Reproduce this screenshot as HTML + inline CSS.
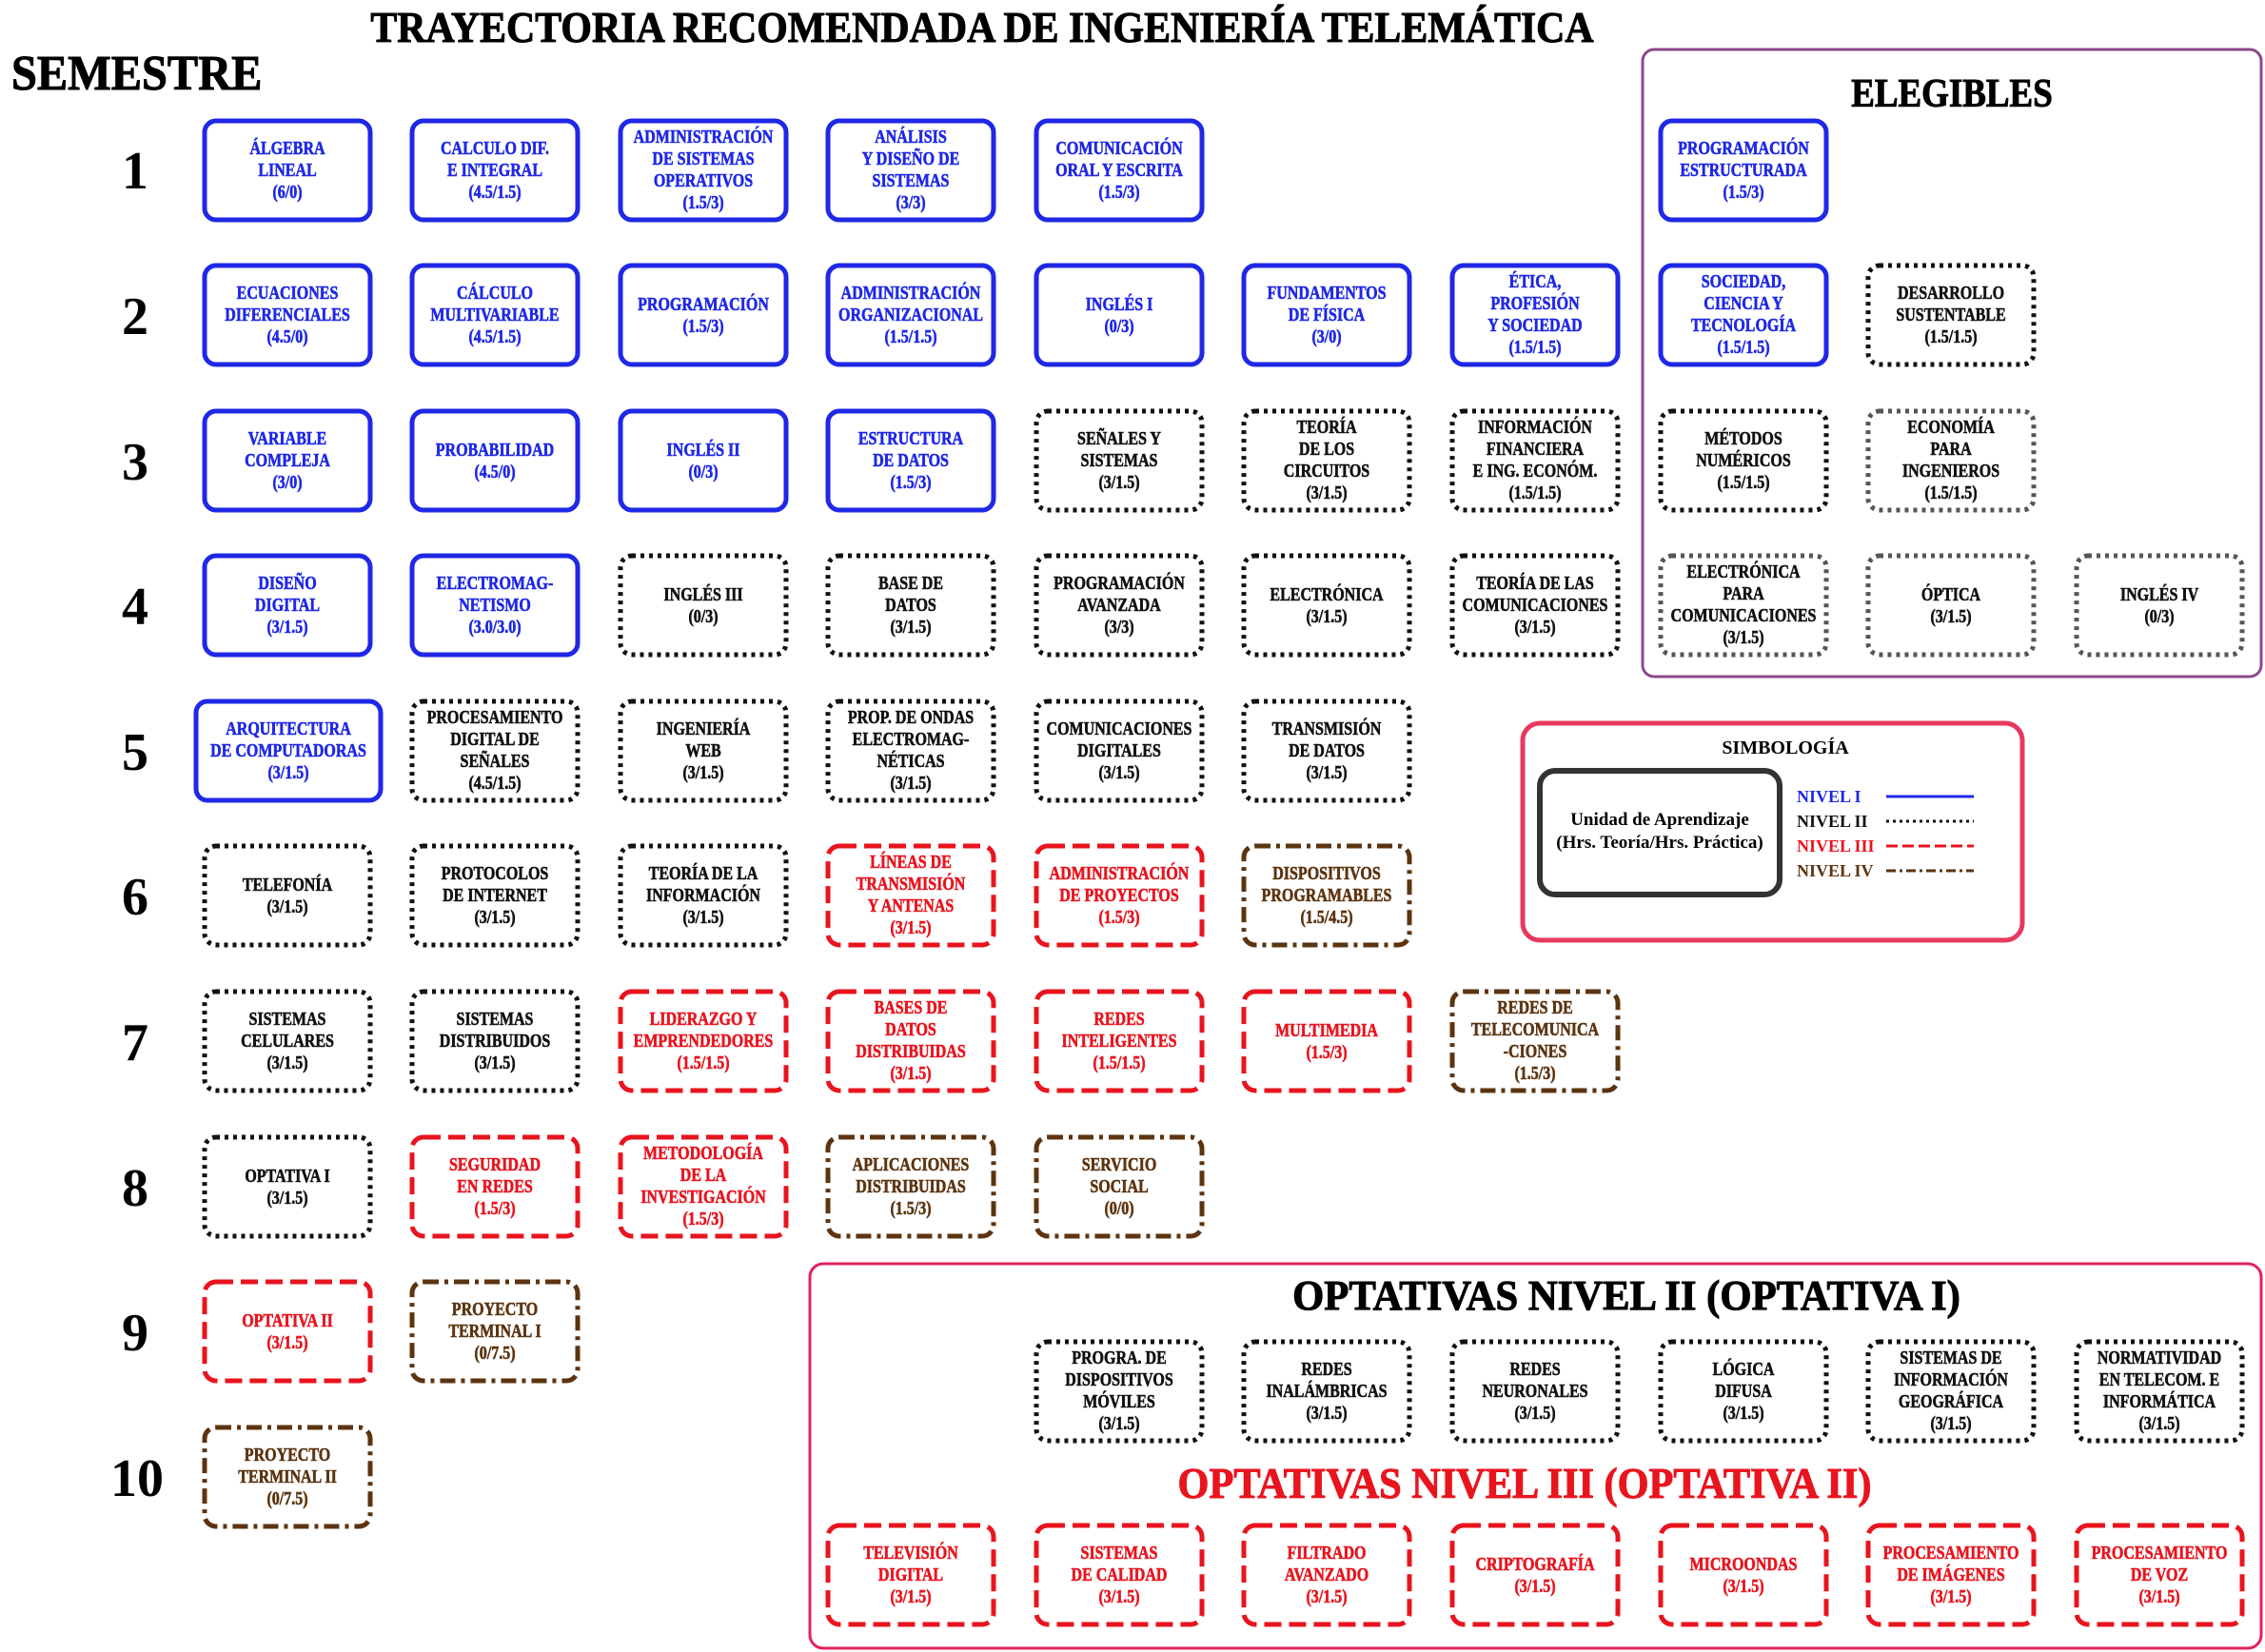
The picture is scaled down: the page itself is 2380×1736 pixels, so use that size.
<!DOCTYPE html>
<html><head><meta charset="utf-8"><style>
html,body{margin:0;padding:0;background:#fff;}
svg{display:block;}
text{font-family:"Liberation Serif",serif;font-weight:bold;}
.b rect{fill:none;stroke:#1f28e6;stroke-width:5;}
.n rect{fill:none;stroke:#111;stroke-width:5;stroke-dasharray:4 5;}
.g rect{fill:none;stroke:#555;stroke-width:5;stroke-dasharray:4 5;}
.r rect{fill:none;stroke:#e8141e;stroke-width:5;stroke-dasharray:18 8;}
.w rect{fill:none;stroke:#5c3410;stroke-width:5;stroke-dasharray:16 6 4 6;}
.b text{fill:#1f28e6;stroke:#1f28e6;} .n text,.g text{fill:#111;stroke:#111;} .r text{fill:#e8141e;stroke:#e8141e;} .w text{fill:#5c3410;stroke:#5c3410;}
.t{font-size:20px;stroke-width:0.6px;}
.h{stroke:#000;stroke-width:1px;}
</style></head><body>
<svg width="2380" height="1736" viewBox="0 0 2380 1736" xmlns="http://www.w3.org/2000/svg">
<text class="h" x="1032" y="44" font-size="46" text-anchor="middle" transform="translate(1032 0) scale(0.91 1) translate(-1032 0)">TRAYECTORIA RECOMENDADA  DE INGENIERÍA TELEMÁTICA</text>
<text class="h" x="12" y="94" font-size="52" transform="translate(12 0) scale(0.93 1) translate(-12 0)">SEMESTRE</text>
<g font-size="56" text-anchor="middle">
<text x="142" y="198">1</text><text x="142" y="351">2</text><text x="142" y="504">3</text><text x="142" y="656">4</text><text x="142" y="809">5</text><text x="142" y="961">6</text><text x="142" y="1114">7</text><text x="142" y="1267">8</text><text x="142" y="1419">9</text><text x="144" y="1572">10</text>
</g>
<!-- frames -->
<rect x="1726" y="52" width="650" height="659" rx="12" fill="none" stroke="#8a4a8a" stroke-width="3"/>
<text class="h" x="2051" y="112" font-size="42" text-anchor="middle" transform="translate(2051 0) scale(0.88 1) translate(-2051 0)">ELEGIBLES</text>
<rect x="851" y="1328" width="1525" height="404" rx="14" fill="none" stroke="#e0245a" stroke-width="3"/>
<text class="h" x="1709" y="1376" font-size="44" text-anchor="middle" transform="translate(1709 0) scale(0.97 1) translate(-1709 0)">OPTATIVAS NIVEL II (OPTATIVA I)</text>
<text x="1602" y="1574" font-size="46" text-anchor="middle" fill="#e8141e" stroke="#e8141e" stroke-width="1" transform="translate(1602 0) scale(0.92 1) translate(-1602 0)">OPTATIVAS NIVEL III (OPTATIVA II)</text>
<!-- simbologia -->
<rect x="1600" y="760" width="525" height="228" rx="18" fill="none" stroke="#e8385e" stroke-width="5"/>
<text x="1876" y="792" font-size="20" text-anchor="middle">SIMBOLOGÍA</text>
<rect x="1618" y="810" width="252" height="130" rx="16" fill="none" stroke="#333" stroke-width="6"/>
<text x="1744" y="867" font-size="19" text-anchor="middle">Unidad de Aprendizaje</text>
<text x="1744" y="891" font-size="19" text-anchor="middle">(Hrs. Teoría/Hrs. Práctica)</text>
<text x="1888" y="843" font-size="18" fill="#1f28e6">NIVEL I</text>
<text x="1888" y="869" font-size="18" fill="#111">NIVEL II</text>
<text x="1888" y="895" font-size="18" fill="#e8141e">NIVEL III</text>
<text x="1888" y="921" font-size="18" fill="#5c3410">NIVEL IV</text>
<line x1="1982" y1="837" x2="2074" y2="837" stroke="#1f28e6" stroke-width="3"/>
<line x1="1982" y1="863" x2="2074" y2="863" stroke="#111" stroke-width="3" stroke-dasharray="3 4"/>
<line x1="1982" y1="889" x2="2074" y2="889" stroke="#e8141e" stroke-width="3" stroke-dasharray="12 5"/>
<line x1="1982" y1="915" x2="2074" y2="915" stroke="#5c3410" stroke-width="3" stroke-dasharray="10 4 3 4"/>

<!-- ROW 1 cy=178.5 -->
<g class="b"><rect x="215" y="127" width="174" height="104" rx="12"/><text class="t" transform="translate(302 0) scale(0.8 1)" text-anchor="middle"><tspan x="0" y="162">ÁLGEBRA</tspan><tspan x="0" y="185">LINEAL</tspan><tspan x="0" y="208">(6/0)</tspan></text></g>
<g class="b"><rect x="433" y="127" width="174" height="104" rx="12"/><text class="t" transform="translate(520 0) scale(0.8 1)" text-anchor="middle"><tspan x="0" y="162">CALCULO DIF.</tspan><tspan x="0" y="185">E INTEGRAL</tspan><tspan x="0" y="208">(4.5/1.5)</tspan></text></g>
<g class="b"><rect x="652" y="127" width="174" height="104" rx="12"/><text class="t" transform="translate(739 0) scale(0.8 1)" text-anchor="middle"><tspan x="0" y="150">ADMINISTRACIÓN</tspan><tspan x="0" y="173">DE SISTEMAS</tspan><tspan x="0" y="196">OPERATIVOS</tspan><tspan x="0" y="219">(1.5/3)</tspan></text></g>
<g class="b"><rect x="870" y="127" width="174" height="104" rx="12"/><text class="t" transform="translate(957 0) scale(0.8 1)" text-anchor="middle"><tspan x="0" y="150">ANÁLISIS</tspan><tspan x="0" y="173">Y DISEÑO DE</tspan><tspan x="0" y="196">SISTEMAS</tspan><tspan x="0" y="219">(3/3)</tspan></text></g>
<g class="b"><rect x="1089" y="127" width="174" height="104" rx="12"/><text class="t" transform="translate(1176 0) scale(0.8 1)" text-anchor="middle"><tspan x="0" y="162">COMUNICACIÓN</tspan><tspan x="0" y="185">ORAL Y ESCRITA</tspan><tspan x="0" y="208">(1.5/3)</tspan></text></g>
<g class="b"><rect x="1745" y="127" width="174" height="104" rx="12"/><text class="t" transform="translate(1832 0) scale(0.8 1)" text-anchor="middle"><tspan x="0" y="162">PROGRAMACIÓN</tspan><tspan x="0" y="185">ESTRUCTURADA</tspan><tspan x="0" y="208">(1.5/3)</tspan></text></g>

<!-- ROW 2 cy=331 -->
<g class="b"><rect x="215" y="279" width="174" height="104" rx="12"/><text class="t" transform="translate(302 0) scale(0.8 1)" text-anchor="middle"><tspan x="0" y="314">ECUACIONES</tspan><tspan x="0" y="337">DIFERENCIALES</tspan><tspan x="0" y="360">(4.5/0)</tspan></text></g>
<g class="b"><rect x="433" y="279" width="174" height="104" rx="12"/><text class="t" transform="translate(520 0) scale(0.8 1)" text-anchor="middle"><tspan x="0" y="314">CÁLCULO</tspan><tspan x="0" y="337">MULTIVARIABLE</tspan><tspan x="0" y="360">(4.5/1.5)</tspan></text></g>
<g class="b"><rect x="652" y="279" width="174" height="104" rx="12"/><text class="t" transform="translate(739 0) scale(0.8 1)" text-anchor="middle"><tspan x="0" y="326">PROGRAMACIÓN</tspan><tspan x="0" y="349">(1.5/3)</tspan></text></g>
<g class="b"><rect x="870" y="279" width="174" height="104" rx="12"/><text class="t" transform="translate(957 0) scale(0.8 1)" text-anchor="middle"><tspan x="0" y="314">ADMINISTRACIÓN</tspan><tspan x="0" y="337">ORGANIZACIONAL</tspan><tspan x="0" y="360">(1.5/1.5)</tspan></text></g>
<g class="b"><rect x="1089" y="279" width="174" height="104" rx="12"/><text class="t" transform="translate(1176 0) scale(0.8 1)" text-anchor="middle"><tspan x="0" y="326">INGLÉS I</tspan><tspan x="0" y="349">(0/3)</tspan></text></g>
<g class="b"><rect x="1307" y="279" width="174" height="104" rx="12"/><text class="t" transform="translate(1394 0) scale(0.8 1)" text-anchor="middle"><tspan x="0" y="314">FUNDAMENTOS</tspan><tspan x="0" y="337">DE FÍSICA</tspan><tspan x="0" y="360">(3/0)</tspan></text></g>
<g class="b"><rect x="1526" y="279" width="174" height="104" rx="12"/><text class="t" transform="translate(1613 0) scale(0.8 1)" text-anchor="middle"><tspan x="0" y="302">ÉTICA,</tspan><tspan x="0" y="325">PROFESIÓN</tspan><tspan x="0" y="348">Y SOCIEDAD</tspan><tspan x="0" y="371">(1.5/1.5)</tspan></text></g>
<g class="b"><rect x="1745" y="279" width="174" height="104" rx="12"/><text class="t" transform="translate(1832 0) scale(0.8 1)" text-anchor="middle"><tspan x="0" y="302">SOCIEDAD,</tspan><tspan x="0" y="325">CIENCIA Y</tspan><tspan x="0" y="348">TECNOLOGÍA</tspan><tspan x="0" y="371">(1.5/1.5)</tspan></text></g>
<g class="n"><rect x="1963" y="279" width="174" height="104" rx="12"/><text class="t" transform="translate(2050 0) scale(0.8 1)" text-anchor="middle"><tspan x="0" y="314">DESARROLLO</tspan><tspan x="0" y="337">SUSTENTABLE</tspan><tspan x="0" y="360">(1.5/1.5)</tspan></text></g>

<!-- ROW 3 cy=484 -->
<g class="b"><rect x="215" y="432" width="174" height="104" rx="12"/><text class="t" transform="translate(302 0) scale(0.8 1)" text-anchor="middle"><tspan x="0" y="467">VARIABLE</tspan><tspan x="0" y="490">COMPLEJA</tspan><tspan x="0" y="513">(3/0)</tspan></text></g>
<g class="b"><rect x="433" y="432" width="174" height="104" rx="12"/><text class="t" transform="translate(520 0) scale(0.8 1)" text-anchor="middle"><tspan x="0" y="479">PROBABILIDAD</tspan><tspan x="0" y="502">(4.5/0)</tspan></text></g>
<g class="b"><rect x="652" y="432" width="174" height="104" rx="12"/><text class="t" transform="translate(739 0) scale(0.8 1)" text-anchor="middle"><tspan x="0" y="479">INGLÉS II</tspan><tspan x="0" y="502">(0/3)</tspan></text></g>
<g class="b"><rect x="870" y="432" width="174" height="104" rx="12"/><text class="t" transform="translate(957 0) scale(0.8 1)" text-anchor="middle"><tspan x="0" y="467">ESTRUCTURA</tspan><tspan x="0" y="490">DE DATOS</tspan><tspan x="0" y="513">(1.5/3)</tspan></text></g>
<g class="n"><rect x="1089" y="432" width="174" height="104" rx="12"/><text class="t" transform="translate(1176 0) scale(0.8 1)" text-anchor="middle"><tspan x="0" y="467">SEÑALES Y</tspan><tspan x="0" y="490">SISTEMAS</tspan><tspan x="0" y="513">(3/1.5)</tspan></text></g>
<g class="n"><rect x="1307" y="432" width="174" height="104" rx="12"/><text class="t" transform="translate(1394 0) scale(0.8 1)" text-anchor="middle"><tspan x="0" y="455">TEORÍA</tspan><tspan x="0" y="478">DE LOS</tspan><tspan x="0" y="501">CIRCUITOS</tspan><tspan x="0" y="524">(3/1.5)</tspan></text></g>
<g class="n"><rect x="1526" y="432" width="174" height="104" rx="12"/><text class="t" transform="translate(1613 0) scale(0.8 1)" text-anchor="middle"><tspan x="0" y="455">INFORMACIÓN</tspan><tspan x="0" y="478">FINANCIERA</tspan><tspan x="0" y="501">E ING. ECONÓM.</tspan><tspan x="0" y="524">(1.5/1.5)</tspan></text></g>
<g class="n"><rect x="1745" y="432" width="174" height="104" rx="12"/><text class="t" transform="translate(1832 0) scale(0.8 1)" text-anchor="middle"><tspan x="0" y="467">MÉTODOS</tspan><tspan x="0" y="490">NUMÉRICOS</tspan><tspan x="0" y="513">(1.5/1.5)</tspan></text></g>
<g class="g"><rect x="1963" y="432" width="174" height="104" rx="12"/><text class="t" transform="translate(2050 0) scale(0.8 1)" text-anchor="middle"><tspan x="0" y="455">ECONOMÍA</tspan><tspan x="0" y="478">PARA</tspan><tspan x="0" y="501">INGENIEROS</tspan><tspan x="0" y="524">(1.5/1.5)</tspan></text></g>

<!-- ROW 4 cy=636 -->
<g class="b"><rect x="215" y="584" width="174" height="104" rx="12"/><text class="t" transform="translate(302 0) scale(0.8 1)" text-anchor="middle"><tspan x="0" y="619">DISEÑO</tspan><tspan x="0" y="642">DIGITAL</tspan><tspan x="0" y="665">(3/1.5)</tspan></text></g>
<g class="b"><rect x="433" y="584" width="174" height="104" rx="12"/><text class="t" transform="translate(520 0) scale(0.8 1)" text-anchor="middle"><tspan x="0" y="619">ELECTROMAG-</tspan><tspan x="0" y="642">NETISMO</tspan><tspan x="0" y="665">(3.0/3.0)</tspan></text></g>
<g class="n"><rect x="652" y="584" width="174" height="104" rx="12"/><text class="t" transform="translate(739 0) scale(0.8 1)" text-anchor="middle"><tspan x="0" y="631">INGLÉS III</tspan><tspan x="0" y="654">(0/3)</tspan></text></g>
<g class="n"><rect x="870" y="584" width="174" height="104" rx="12"/><text class="t" transform="translate(957 0) scale(0.8 1)" text-anchor="middle"><tspan x="0" y="619">BASE DE</tspan><tspan x="0" y="642">DATOS</tspan><tspan x="0" y="665">(3/1.5)</tspan></text></g>
<g class="n"><rect x="1089" y="584" width="174" height="104" rx="12"/><text class="t" transform="translate(1176 0) scale(0.8 1)" text-anchor="middle"><tspan x="0" y="619">PROGRAMACIÓN</tspan><tspan x="0" y="642">AVANZADA</tspan><tspan x="0" y="665">(3/3)</tspan></text></g>
<g class="n"><rect x="1307" y="584" width="174" height="104" rx="12"/><text class="t" transform="translate(1394 0) scale(0.8 1)" text-anchor="middle"><tspan x="0" y="631">ELECTRÓNICA</tspan><tspan x="0" y="654">(3/1.5)</tspan></text></g>
<g class="n"><rect x="1526" y="584" width="174" height="104" rx="12"/><text class="t" transform="translate(1613 0) scale(0.8 1)" text-anchor="middle"><tspan x="0" y="619">TEORÍA DE LAS</tspan><tspan x="0" y="642">COMUNICACIONES</tspan><tspan x="0" y="665">(3/1.5)</tspan></text></g>
<g class="g"><rect x="1745" y="584" width="174" height="104" rx="12"/><text class="t" transform="translate(1832 0) scale(0.8 1)" text-anchor="middle"><tspan x="0" y="607">ELECTRÓNICA</tspan><tspan x="0" y="630">PARA</tspan><tspan x="0" y="653">COMUNICACIONES</tspan><tspan x="0" y="676">(3/1.5)</tspan></text></g>
<g class="g"><rect x="1963" y="584" width="174" height="104" rx="12"/><text class="t" transform="translate(2050 0) scale(0.8 1)" text-anchor="middle"><tspan x="0" y="631">ÓPTICA</tspan><tspan x="0" y="654">(3/1.5)</tspan></text></g>
<g class="g"><rect x="2182" y="584" width="174" height="104" rx="12"/><text class="t" transform="translate(2269 0) scale(0.8 1)" text-anchor="middle"><tspan x="0" y="631">INGLÉS IV</tspan><tspan x="0" y="654">(0/3)</tspan></text></g>

<!-- ROW 5 cy=789 -->
<g class="b"><rect x="206" y="737" width="194" height="104" rx="12"/><text class="t" transform="translate(303 0) scale(0.8 1)" text-anchor="middle"><tspan x="0" y="772">ARQUITECTURA</tspan><tspan x="0" y="795">DE COMPUTADORAS</tspan><tspan x="0" y="818">(3/1.5)</tspan></text></g>
<g class="n"><rect x="433" y="737" width="174" height="104" rx="12"/><text class="t" transform="translate(520 0) scale(0.8 1)" text-anchor="middle"><tspan x="0" y="760">PROCESAMIENTO</tspan><tspan x="0" y="783">DIGITAL DE</tspan><tspan x="0" y="806">SEÑALES</tspan><tspan x="0" y="829">(4.5/1.5)</tspan></text></g>
<g class="n"><rect x="652" y="737" width="174" height="104" rx="12"/><text class="t" transform="translate(739 0) scale(0.8 1)" text-anchor="middle"><tspan x="0" y="772">INGENIERÍA</tspan><tspan x="0" y="795">WEB</tspan><tspan x="0" y="818">(3/1.5)</tspan></text></g>
<g class="n"><rect x="870" y="737" width="174" height="104" rx="12"/><text class="t" transform="translate(957 0) scale(0.8 1)" text-anchor="middle"><tspan x="0" y="760">PROP. DE ONDAS</tspan><tspan x="0" y="783">ELECTROMAG-</tspan><tspan x="0" y="806">NÉTICAS</tspan><tspan x="0" y="829">(3/1.5)</tspan></text></g>
<g class="n"><rect x="1089" y="737" width="174" height="104" rx="12"/><text class="t" transform="translate(1176 0) scale(0.8 1)" text-anchor="middle"><tspan x="0" y="772">COMUNICACIONES</tspan><tspan x="0" y="795">DIGITALES</tspan><tspan x="0" y="818">(3/1.5)</tspan></text></g>
<g class="n"><rect x="1307" y="737" width="174" height="104" rx="12"/><text class="t" transform="translate(1394 0) scale(0.8 1)" text-anchor="middle"><tspan x="0" y="772">TRANSMISIÓN</tspan><tspan x="0" y="795">DE DATOS</tspan><tspan x="0" y="818">(3/1.5)</tspan></text></g>

<!-- ROW 6 cy=941 -->
<g class="n"><rect x="215" y="889" width="174" height="104" rx="12"/><text class="t" transform="translate(302 0) scale(0.8 1)" text-anchor="middle"><tspan x="0" y="936">TELEFONÍA</tspan><tspan x="0" y="959">(3/1.5)</tspan></text></g>
<g class="n"><rect x="433" y="889" width="174" height="104" rx="12"/><text class="t" transform="translate(520 0) scale(0.8 1)" text-anchor="middle"><tspan x="0" y="924">PROTOCOLOS</tspan><tspan x="0" y="947">DE INTERNET</tspan><tspan x="0" y="970">(3/1.5)</tspan></text></g>
<g class="n"><rect x="652" y="889" width="174" height="104" rx="12"/><text class="t" transform="translate(739 0) scale(0.8 1)" text-anchor="middle"><tspan x="0" y="924">TEORÍA DE LA</tspan><tspan x="0" y="947">INFORMACIÓN</tspan><tspan x="0" y="970">(3/1.5)</tspan></text></g>
<g class="r"><rect x="870" y="889" width="174" height="104" rx="12"/><text class="t" transform="translate(957 0) scale(0.8 1)" text-anchor="middle"><tspan x="0" y="912">LÍNEAS DE</tspan><tspan x="0" y="935">TRANSMISIÓN</tspan><tspan x="0" y="958">Y ANTENAS</tspan><tspan x="0" y="981">(3/1.5)</tspan></text></g>
<g class="r"><rect x="1089" y="889" width="174" height="104" rx="12"/><text class="t" transform="translate(1176 0) scale(0.8 1)" text-anchor="middle"><tspan x="0" y="924">ADMINISTRACIÓN</tspan><tspan x="0" y="947">DE PROYECTOS</tspan><tspan x="0" y="970">(1.5/3)</tspan></text></g>
<g class="w"><rect x="1307" y="889" width="174" height="104" rx="12"/><text class="t" transform="translate(1394 0) scale(0.8 1)" text-anchor="middle"><tspan x="0" y="924">DISPOSITIVOS</tspan><tspan x="0" y="947">PROGRAMABLES</tspan><tspan x="0" y="970">(1.5/4.5)</tspan></text></g>

<!-- ROW 7 cy=1094 -->
<g class="n"><rect x="215" y="1042" width="174" height="104" rx="12"/><text class="t" transform="translate(302 0) scale(0.8 1)" text-anchor="middle"><tspan x="0" y="1077">SISTEMAS</tspan><tspan x="0" y="1100">CELULARES</tspan><tspan x="0" y="1123">(3/1.5)</tspan></text></g>
<g class="n"><rect x="433" y="1042" width="174" height="104" rx="12"/><text class="t" transform="translate(520 0) scale(0.8 1)" text-anchor="middle"><tspan x="0" y="1077">SISTEMAS</tspan><tspan x="0" y="1100">DISTRIBUIDOS</tspan><tspan x="0" y="1123">(3/1.5)</tspan></text></g>
<g class="r"><rect x="652" y="1042" width="174" height="104" rx="12"/><text class="t" transform="translate(739 0) scale(0.8 1)" text-anchor="middle"><tspan x="0" y="1077">LIDERAZGO Y</tspan><tspan x="0" y="1100">EMPRENDEDORES</tspan><tspan x="0" y="1123">(1.5/1.5)</tspan></text></g>
<g class="r"><rect x="870" y="1042" width="174" height="104" rx="12"/><text class="t" transform="translate(957 0) scale(0.8 1)" text-anchor="middle"><tspan x="0" y="1065">BASES DE</tspan><tspan x="0" y="1088">DATOS</tspan><tspan x="0" y="1111">DISTRIBUIDAS</tspan><tspan x="0" y="1134">(3/1.5)</tspan></text></g>
<g class="r"><rect x="1089" y="1042" width="174" height="104" rx="12"/><text class="t" transform="translate(1176 0) scale(0.8 1)" text-anchor="middle"><tspan x="0" y="1077">REDES</tspan><tspan x="0" y="1100">INTELIGENTES</tspan><tspan x="0" y="1123">(1.5/1.5)</tspan></text></g>
<g class="r"><rect x="1307" y="1042" width="174" height="104" rx="12"/><text class="t" transform="translate(1394 0) scale(0.8 1)" text-anchor="middle"><tspan x="0" y="1089">MULTIMEDIA</tspan><tspan x="0" y="1112">(1.5/3)</tspan></text></g>
<g class="w"><rect x="1526" y="1042" width="174" height="104" rx="12"/><text class="t" transform="translate(1613 0) scale(0.8 1)" text-anchor="middle"><tspan x="0" y="1065">REDES DE</tspan><tspan x="0" y="1088">TELECOMUNICA</tspan><tspan x="0" y="1111">-CIONES</tspan><tspan x="0" y="1134">(1.5/3)</tspan></text></g>

<!-- ROW 8 cy=1247 -->
<g class="n"><rect x="215" y="1195" width="174" height="104" rx="12"/><text class="t" transform="translate(302 0) scale(0.8 1)" text-anchor="middle"><tspan x="0" y="1242">OPTATIVA I</tspan><tspan x="0" y="1265">(3/1.5)</tspan></text></g>
<g class="r"><rect x="433" y="1195" width="174" height="104" rx="12"/><text class="t" transform="translate(520 0) scale(0.8 1)" text-anchor="middle"><tspan x="0" y="1230">SEGURIDAD</tspan><tspan x="0" y="1253">EN REDES</tspan><tspan x="0" y="1276">(1.5/3)</tspan></text></g>
<g class="r"><rect x="652" y="1195" width="174" height="104" rx="12"/><text class="t" transform="translate(739 0) scale(0.8 1)" text-anchor="middle"><tspan x="0" y="1218">METODOLOGÍA</tspan><tspan x="0" y="1241">DE LA</tspan><tspan x="0" y="1264">INVESTIGACIÓN</tspan><tspan x="0" y="1287">(1.5/3)</tspan></text></g>
<g class="w"><rect x="870" y="1195" width="174" height="104" rx="12"/><text class="t" transform="translate(957 0) scale(0.8 1)" text-anchor="middle"><tspan x="0" y="1230">APLICACIONES</tspan><tspan x="0" y="1253">DISTRIBUIDAS</tspan><tspan x="0" y="1276">(1.5/3)</tspan></text></g>
<g class="w"><rect x="1089" y="1195" width="174" height="104" rx="12"/><text class="t" transform="translate(1176 0) scale(0.8 1)" text-anchor="middle"><tspan x="0" y="1230">SERVICIO</tspan><tspan x="0" y="1253">SOCIAL</tspan><tspan x="0" y="1276">(0/0)</tspan></text></g>

<!-- ROW 9 cy=1399 -->
<g class="r"><rect x="215" y="1347" width="174" height="104" rx="12"/><text class="t" transform="translate(302 0) scale(0.8 1)" text-anchor="middle"><tspan x="0" y="1394">OPTATIVA II</tspan><tspan x="0" y="1417">(3/1.5)</tspan></text></g>
<g class="w"><rect x="433" y="1347" width="174" height="104" rx="12"/><text class="t" transform="translate(520 0) scale(0.8 1)" text-anchor="middle"><tspan x="0" y="1382">PROYECTO</tspan><tspan x="0" y="1405">TERMINAL I</tspan><tspan x="0" y="1428">(0/7.5)</tspan></text></g>

<!-- ROW 10 cy=1552 -->
<g class="w"><rect x="215" y="1500" width="174" height="104" rx="12"/><text class="t" transform="translate(302 0) scale(0.8 1)" text-anchor="middle"><tspan x="0" y="1535">PROYECTO</tspan><tspan x="0" y="1558">TERMINAL II</tspan><tspan x="0" y="1581">(0/7.5)</tspan></text></g>

<!-- OPTATIVAS II cy=1461 -->
<g class="n"><rect x="1089" y="1410" width="174" height="104" rx="12"/><text class="t" transform="translate(1176 0) scale(0.8 1)" text-anchor="middle"><tspan x="0" y="1433">PROGRA. DE</tspan><tspan x="0" y="1456">DISPOSITIVOS</tspan><tspan x="0" y="1479">MÓVILES</tspan><tspan x="0" y="1502">(3/1.5)</tspan></text></g>
<g class="n"><rect x="1307" y="1410" width="174" height="104" rx="12"/><text class="t" transform="translate(1394 0) scale(0.8 1)" text-anchor="middle"><tspan x="0" y="1445">REDES</tspan><tspan x="0" y="1468">INALÁMBRICAS</tspan><tspan x="0" y="1491">(3/1.5)</tspan></text></g>
<g class="n"><rect x="1526" y="1410" width="174" height="104" rx="12"/><text class="t" transform="translate(1613 0) scale(0.8 1)" text-anchor="middle"><tspan x="0" y="1445">REDES</tspan><tspan x="0" y="1468">NEURONALES</tspan><tspan x="0" y="1491">(3/1.5)</tspan></text></g>
<g class="n"><rect x="1745" y="1410" width="174" height="104" rx="12"/><text class="t" transform="translate(1832 0) scale(0.8 1)" text-anchor="middle"><tspan x="0" y="1445">LÓGICA</tspan><tspan x="0" y="1468">DIFUSA</tspan><tspan x="0" y="1491">(3/1.5)</tspan></text></g>
<g class="n"><rect x="1963" y="1410" width="174" height="104" rx="12"/><text class="t" transform="translate(2050 0) scale(0.8 1)" text-anchor="middle"><tspan x="0" y="1433">SISTEMAS DE</tspan><tspan x="0" y="1456">INFORMACIÓN</tspan><tspan x="0" y="1479">GEOGRÁFICA</tspan><tspan x="0" y="1502">(3/1.5)</tspan></text></g>
<g class="n"><rect x="2182" y="1410" width="174" height="104" rx="12"/><text class="t" transform="translate(2269 0) scale(0.8 1)" text-anchor="middle"><tspan x="0" y="1433">NORMATIVIDAD</tspan><tspan x="0" y="1456">EN TELECOM. E</tspan><tspan x="0" y="1479">INFORMÁTICA</tspan><tspan x="0" y="1502">(3/1.5)</tspan></text></g>

<!-- OPTATIVAS III cy=1654 -->
<g class="r"><rect x="870" y="1603" width="174" height="104" rx="12"/><text class="t" transform="translate(957 0) scale(0.8 1)" text-anchor="middle"><tspan x="0" y="1638">TELEVISIÓN</tspan><tspan x="0" y="1661">DIGITAL</tspan><tspan x="0" y="1684">(3/1.5)</tspan></text></g>
<g class="r"><rect x="1089" y="1603" width="174" height="104" rx="12"/><text class="t" transform="translate(1176 0) scale(0.8 1)" text-anchor="middle"><tspan x="0" y="1638">SISTEMAS</tspan><tspan x="0" y="1661">DE CALIDAD</tspan><tspan x="0" y="1684">(3/1.5)</tspan></text></g>
<g class="r"><rect x="1307" y="1603" width="174" height="104" rx="12"/><text class="t" transform="translate(1394 0) scale(0.8 1)" text-anchor="middle"><tspan x="0" y="1638">FILTRADO</tspan><tspan x="0" y="1661">AVANZADO</tspan><tspan x="0" y="1684">(3/1.5)</tspan></text></g>
<g class="r"><rect x="1526" y="1603" width="174" height="104" rx="12"/><text class="t" transform="translate(1613 0) scale(0.8 1)" text-anchor="middle"><tspan x="0" y="1650">CRIPTOGRAFÍA</tspan><tspan x="0" y="1673">(3/1.5)</tspan></text></g>
<g class="r"><rect x="1745" y="1603" width="174" height="104" rx="12"/><text class="t" transform="translate(1832 0) scale(0.8 1)" text-anchor="middle"><tspan x="0" y="1650">MICROONDAS</tspan><tspan x="0" y="1673">(3/1.5)</tspan></text></g>
<g class="r"><rect x="1963" y="1603" width="174" height="104" rx="12"/><text class="t" transform="translate(2050 0) scale(0.8 1)" text-anchor="middle"><tspan x="0" y="1638">PROCESAMIENTO</tspan><tspan x="0" y="1661">DE IMÁGENES</tspan><tspan x="0" y="1684">(3/1.5)</tspan></text></g>
<g class="r"><rect x="2182" y="1603" width="174" height="104" rx="12"/><text class="t" transform="translate(2269 0) scale(0.8 1)" text-anchor="middle"><tspan x="0" y="1638">PROCESAMIENTO</tspan><tspan x="0" y="1661">DE VOZ</tspan><tspan x="0" y="1684">(3/1.5)</tspan></text></g>
</svg>
</body></html>
